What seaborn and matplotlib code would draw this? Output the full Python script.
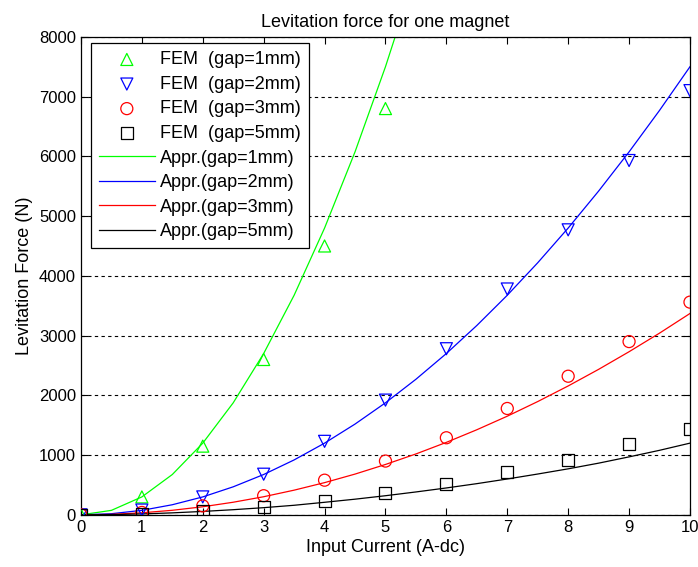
import numpy as np
import pandas as pd
import seaborn as sns
import matplotlib.pyplot as plt

# FEM results
current = [0, 1, 2, 3, 4, 5, 6, 7, 8, 9, 10]
fem_1mm = [0, 300, 1150, 2600, 4500, 6800]
fem_2mm = [0, 80, 300, 680, 1230, 1920, 2780, 3780, 4770, 5930, 7100]
fem_3mm = [0, 40, 150, 320, 580, 900, 1290, 1780, 2320, 2900, 3560]
fem_5mm = [0, 15, 60, 130, 230, 360, 520, 710, 920, 1180, 1440]

# approximation curves, read every 0.5 A
curve_x = [0, 0.5, 1, 1.5, 2, 2.5, 3, 3.5, 4, 4.5, 5, 5.5, 6, 6.5, 7, 7.5, 8, 8.5, 9, 9.5, 10]
appr_1mm = [0, 75, 300, 675, 1200, 1875, 2700, 3675, 4800, 6075, 7500, 9075]
appr_2mm = [0, 19, 75, 169, 300, 469, 675, 919, 1200, 1519, 1875, 2269, 2700,
            3169, 3675, 4219, 4800, 5419, 6075, 6769, 7500]
appr_3mm = [0, 8, 34, 76, 135, 211, 303, 413, 539, 682, 843, 1019, 1213,
            1424, 1651, 1896, 2157, 2435, 2730, 3041, 3370]
appr_5mm = [0, 4, 15, 33, 57, 86, 120, 160, 210, 262, 320, 383, 450,
            522, 600, 683, 770, 865, 970, 1080, 1200]

gaps = ['1mm', '2mm', '3mm', '5mm']
colors = ['#00ff00', '#0000ff', '#ff0000', '#000000']
markers = ['^', 'v', 'o', 's']
fem = [fem_1mm, fem_2mm, fem_3mm, fem_5mm]
appr = [appr_1mm, appr_2mm, appr_3mm, appr_5mm]

plt.rcParams['font.family'] = ['Liberation Sans', 'DejaVu Sans']

fig = plt.figure(figsize=(6.98, 5.67), dpi=100)
ax = fig.add_axes([0.116, 0.092, 0.8725, 0.843])

for g, c, m, vals in zip(gaps, colors, markers, fem):
    df = pd.DataFrame({'x': current[:len(vals)], 'y': vals})
    sns.scatterplot(data=df, x='x', y='y', ax=ax, marker=m, s=75,
                    facecolor='none', edgecolor=c, linewidth=0.9,
                    label='FEM  (gap=' + g + ')', zorder=3)

for g, c, vals in zip(gaps, colors, appr):
    df = pd.DataFrame({'x': curve_x[:len(vals)], 'y': vals})
    sns.lineplot(data=df, x='x', y='y', ax=ax, color=c, linewidth=0.9,
                 label='Appr.(gap=' + g + ')', zorder=2)

ax.set_xlim(0, 10)
ax.set_ylim(0, 8000)
ax.set_xticks(range(0, 11))
ax.set_yticks(range(0, 8001, 1000))
ax.yaxis.grid(True, color='black', linestyle=(0, (3, 3)), linewidth=0.8)
ax.set_axisbelow(True)
ax.tick_params(direction='in', top=True, right=True, labelsize=12, length=5)
for sp in ax.spines.values():
    sp.set_linewidth(0.9)

ax.set_xlabel('Input Current (A-dc)', fontsize=13, labelpad=3)
ax.set_ylabel('Levitation Force (N)', fontsize=13)
ax.set_title('Levitation force for one magnet', fontsize=13, pad=7)

leg = ax.legend(loc='upper left', bbox_to_anchor=(0.016, 0.987), borderaxespad=0,
                fontsize=13, handlelength=3.1, handletextpad=0.3,
                labelspacing=0.42, borderpad=0.45, fancybox=False,
                edgecolor='black', framealpha=1)
leg.get_frame().set_linewidth(0.9)

plt.savefig('out.png', dpi=100)
